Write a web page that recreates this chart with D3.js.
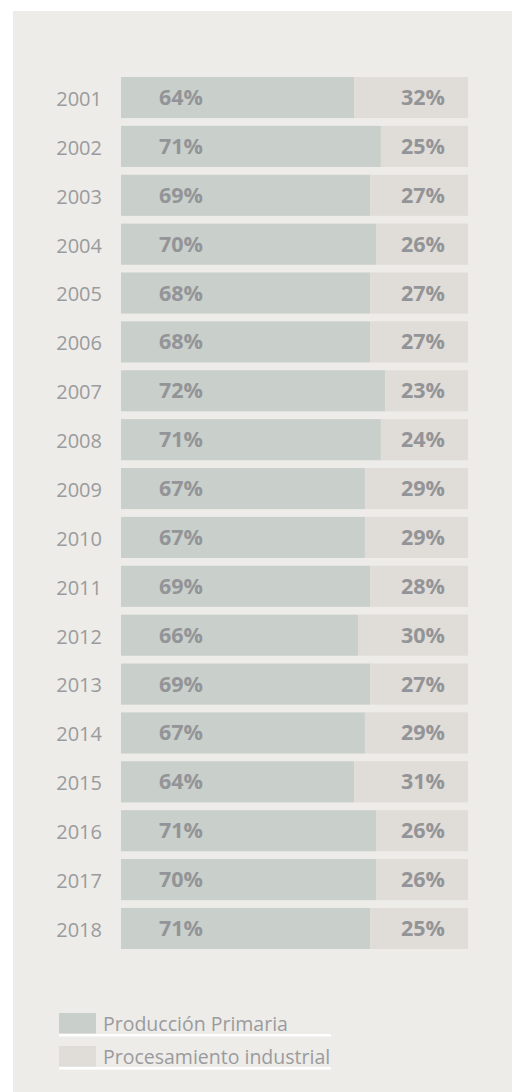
<!DOCTYPE html>
<html>
<head>
<meta charset="utf-8">
<script src="https://cdn.jsdelivr.net/npm/d3@7"></script>
<style>
  html, body { margin: 0; padding: 0; background: #ffffff; }
  svg { display: block; }
</style>
</head>
<body>
<svg id="chart" width="512" height="1092"></svg>
<script>
// ---- data ----
const years = ["2001","2002","2003","2004","2005","2006","2007","2008","2009","2010","2011","2012","2013","2014","2015","2016","2017","2018"];
const primaria = [64,71,69,70,68,68,72,71,67,67,69,66,69,67,64,71,70,71];
const industrial = [32,25,27,26,27,27,23,24,29,29,28,30,27,29,31,26,26,25];
// share of the bar length taken by the primary segment
const primaryBarShare = [0.672,0.749,0.718,0.735,0.718,0.718,0.761,0.749,0.703,0.703,0.718,0.683,0.718,0.703,0.672,0.735,0.735,0.718];
const seriesNames = ["Producción Primaria","Procesamiento industrial"];

// ---- style ----
const colors = ["#c9cfca", "#e0dcd7"];
const panelColor = "#edece8";
const textColor = "#9a9b9e";
const labelColor = "#939498";
const font = "'Open Sans', 'Noto Sans', sans-serif";

const svg = d3.select("#chart");

svg.append("rect")
  .attr("x", 13).attr("y", 11)
  .attr("width", 512 - 13).attr("height", 1092 - 11)
  .attr("fill", panelColor);

const y = d3.scaleBand().domain(years).range([77, 949]).paddingInner(0.159).paddingOuter(0);
const x = d3.scaleLinear().domain([0, 1]).range([121, 468]);

const rows = years.map((yr, i) => ({
  year: yr, p: primaria[i], q: industrial[i], share: primaryBarShare[i]
}));

const g = svg.append("g");

const row = g.selectAll("g.row").data(rows).join("g").attr("class", "row");

row.append("rect")
  .attr("x", x(0))
  .attr("y", d => y(d.year))
  .attr("width", d => x(d.share) - x(0))
  .attr("height", y.bandwidth())
  .attr("fill", colors[0]);

row.append("rect")
  .attr("x", d => x(d.share))
  .attr("y", d => y(d.year))
  .attr("width", d => x(1) - x(d.share))
  .attr("height", y.bandwidth())
  .attr("fill", colors[1]);

// year labels (axis)
const yAxis = d3.axisLeft(y).tickSize(0).tickPadding(0);
const axG = svg.append("g").attr("transform", "translate(102,2)").call(yAxis);
axG.select(".domain").remove();
axG.selectAll("text")
  .attr("font-family", font)
  .attr("font-size", 20)
  .attr("fill", textColor);

row.append("text")
  .attr("x", 159)
  .attr("y", d => y(d.year) + y.bandwidth() / 2)
  .attr("dy", "0.35em")
  .attr("font-family", font)
  .attr("font-size", 21.5)
  .attr("font-weight", "bold")
  .attr("fill", labelColor)
  .text(d => d.p + "%");

row.append("text")
  .attr("x", 445)
  .attr("text-anchor", "end")
  .attr("y", d => y(d.year) + y.bandwidth() / 2)
  .attr("dy", "0.35em")
  .attr("font-family", font)
  .attr("font-size", 21.5)
  .attr("font-weight", "bold")
  .attr("fill", labelColor)
  .text(d => d.q + "%");

// legend
const legend = svg.append("g");
const ly = [1013, 1046];
seriesNames.forEach((name, i) => {
  legend.append("rect")
    .attr("x", 59).attr("y", ly[i])
    .attr("width", 37).attr("height", 20.5)
    .attr("fill", colors[i]);
  legend.append("rect")
    .attr("x", 59).attr("y", ly[i] + 21)
    .attr("width", 272).attr("height", 2.5)
    .attr("fill", "#ffffff");
  legend.append("text")
    .attr("x", 103).attr("y", ly[i] + 17.5)
    .attr("font-family", font)
    .attr("font-size", 19.5)
    .attr("fill", textColor)
    .text(name);
});
</script>
</body>
</html>
